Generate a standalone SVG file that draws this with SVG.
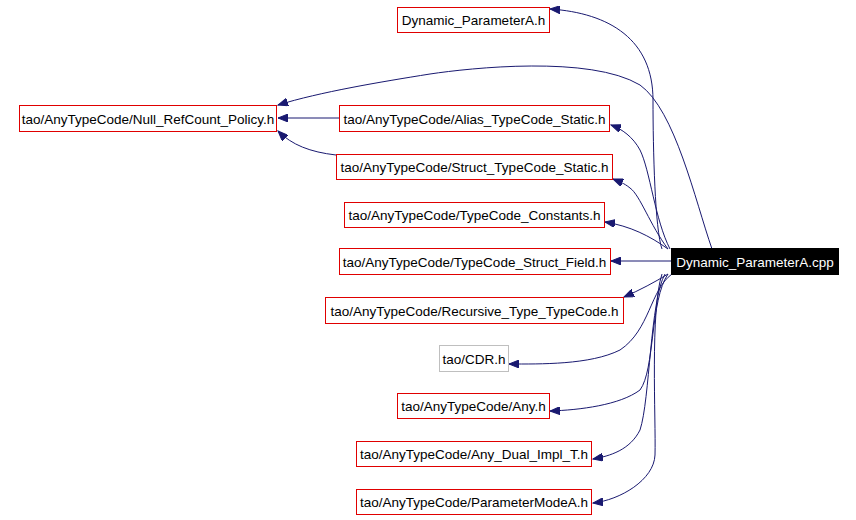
<svg xmlns="http://www.w3.org/2000/svg" width="856" height="520" viewBox="0 0 856 520">
<style>
.n rect{fill:#fff;stroke:#e00000;stroke-width:1}
.n text{font-family:"Liberation Sans",Arial,sans-serif;font-size:13.5px;fill:#000;text-anchor:middle}
#cdr rect{stroke:#bfbfbf}
#cpp rect{fill:#000;stroke:#000}
#cpp text{fill:#fff}
.e path{fill:none;stroke:#191970;stroke-width:1;marker-end:url(#ah)}
</style>
<defs>
<marker id="ah" markerUnits="userSpaceOnUse" markerWidth="11" markerHeight="8" refX="10" refY="4" orient="auto">
<path d="M0,0 L10,4 L0,8 z" fill="#191970" stroke="#191970" stroke-width="1"/>
</marker>
</defs>
<rect width="856" height="520" fill="#fff"/>
<g class="e">
<path d="M662,249 C655,230 653,150 653,100 C653,40 610,13 550,9"/>
<path d="M712,249 C695,200 675,110 640,85 C590,55 470,68 430,74 C380,82 320,92 278,105"/>
<path d="M339,118 L278,118"/>
<path d="M336,155 C310,152 292,145 278,131"/>
<path d="M670,249 C655,220 650,170 640,150 C633,137 622,129 611,125"/>
<path d="M668,249 C650,225 640,195 630,188 C624,183 618,181 613,179"/>
<path d="M668,249 C650,236 630,226 605,222"/>
<path d="M671,261 L611,261"/>
<path d="M668,274 C655,282 640,290 624,297"/>
<path d="M672,274 C650,290 650,330 620,350 C590,365 540,364 509,364"/>
<path d="M668,274 C650,300 655,370 640,390 C620,405 580,410 550,411"/>
<path d="M665,274 C650,300 650,400 640,430 C630,450 610,456 593,459"/>
<path d="M662,274 C650,310 656,420 655,455 C654,480 620,500 593,503"/>
</g>
<g id="dpa_h" class="n"><rect x="397.5" y="7.5" width="152" height="25"/><text x="473.5" y="25">Dynamic_ParameterA.h</text></g>
<g id="null_rc" class="n"><rect x="19.5" y="105.5" width="257" height="26"/><text x="148" y="123.5">tao/AnyTypeCode/Null_RefCount_Policy.h</text></g>
<g id="alias" class="n"><rect x="339.5" y="105.5" width="270" height="26"/><text x="474.5" y="123.5">tao/AnyTypeCode/Alias_TypeCode_Static.h</text></g>
<g id="struct" class="n"><rect x="336.5" y="154.5" width="276" height="25"/><text x="474.5" y="172">tao/AnyTypeCode/Struct_TypeCode_Static.h</text></g>
<g id="tcc" class="n"><rect x="344.5" y="202.5" width="260" height="25"/><text x="474.5" y="220">tao/AnyTypeCode/TypeCode_Constants.h</text></g>
<g id="tcsf" class="n"><rect x="339.5" y="248.5" width="271" height="26"/><text x="474.5" y="266.5">tao/AnyTypeCode/TypeCode_Struct_Field.h</text></g>
<g id="rec" class="n"><rect x="325.5" y="297.5" width="298" height="26"/><text x="474.5" y="315.5">tao/AnyTypeCode/Recursive_Type_TypeCode.h</text></g>
<g id="cdr" class="n"><rect x="439.5" y="345.5" width="69" height="26"/><text x="474" y="363.5">tao/CDR.h</text></g>
<g id="any" class="n"><rect x="397.5" y="393.5" width="152" height="25"/><text x="473.5" y="411">tao/AnyTypeCode/Any.h</text></g>
<g id="anydual" class="n"><rect x="356.5" y="441.5" width="235" height="25"/><text x="474" y="459">tao/AnyTypeCode/Any_Dual_Impl_T.h</text></g>
<g id="pma" class="n"><rect x="356.5" y="489.5" width="235" height="25"/><text x="474" y="507">tao/AnyTypeCode/ParameterModeA.h</text></g>
<g id="cpp" class="n"><rect x="671.5" y="248.5" width="167" height="26"/><text x="755" y="266.5">Dynamic_ParameterA.cpp</text></g>
</svg>
